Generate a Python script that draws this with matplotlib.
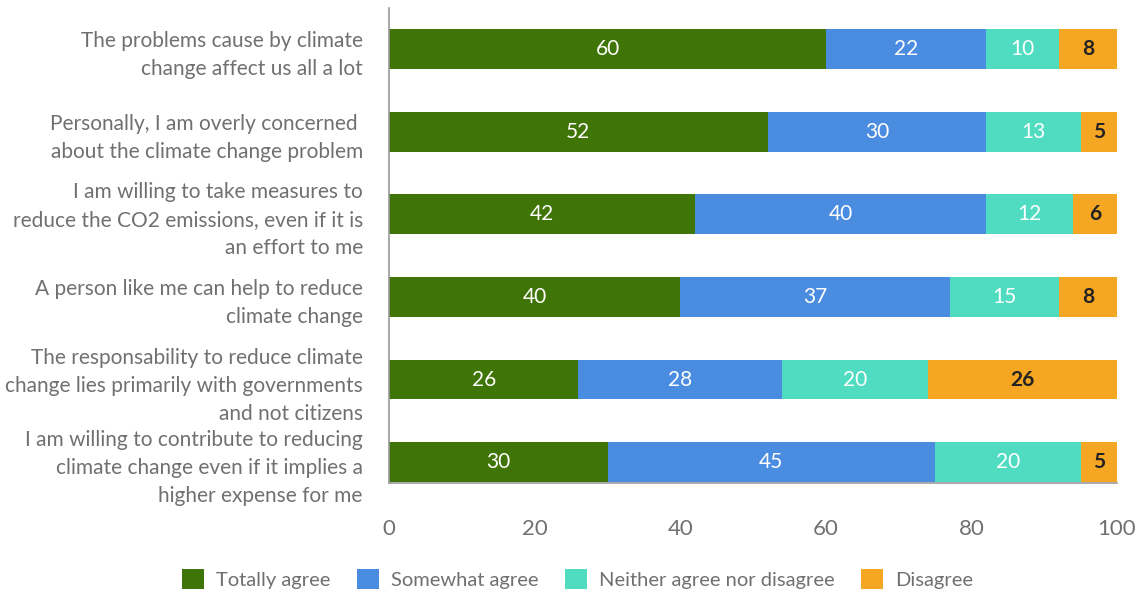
import matplotlib.pyplot as plt
from matplotlib.patches import Patch

plt.rcParams['font.family'] = ['Lato', 'DejaVu Sans']

statements = [
    "The problems cause by climate\nchange affect us all a lot",
    "Personally, I am overly concerned \nabout the climate change problem",
    "I am willing to take measures to\nreduce the CO2 emissions, even if it is\nan effort to me",
    "A person like me can help to reduce\nclimate change",
    "The responsability to reduce climate\nchange lies primarily with governments\nand not citizens",
    "I am willing to contribute to reducing\nclimate change even if it implies a\nhigher expense for me",
]
totally_agree = [60, 52, 42, 40, 26, 30]
somewhat_agree = [22, 30, 40, 37, 28, 45]
neither = [10, 13, 12, 15, 20, 20]
disagree = [8, 5, 6, 8, 26, 5]

series = [
    ("Totally agree", totally_agree, "#3f7406", "white"),
    ("Somewhat agree", somewhat_agree, "#4a8ce0", "white"),
    ("Neither agree nor disagree", neither, "#4fdcc0", "white"),
    ("Disagree", disagree, "#f5a623", "#222222"),
]
xticks = [0, 20, 40, 60, 80, 100]

fig = plt.figure(figsize=(11.48, 5.94), dpi=100)
ax = fig.add_axes([0.339, 0.187, 0.634, 0.8])

ypos = list(range(len(statements)))
left = [0] * len(statements)
for name, vals, color, tcolor in series:
    bars = ax.barh(ypos, vals, left=left, height=0.48, color=color, label=name)
    for b, v in zip(bars, vals):
        weight = 'bold' if tcolor != 'white' else 'normal'
        ax.text(b.get_x() + b.get_width() / 2, b.get_y() + b.get_height() / 2, str(v),
                ha='center', va='center', color=tcolor, fontsize=15, fontweight=weight)
    left = [l + v for l, v in zip(left, vals)]

ax.set_ylim(5.25, -0.5)
ax.set_xlim(0, 100)
ax.set_yticks(ypos)
ax.set_yticklabels(statements, fontsize=15, color="#707070", linespacing=1.5)
ax.set_xticks(xticks)
ax.set_xticklabels([str(t) for t in xticks], fontsize=16, color="#707070")
ax.tick_params(axis='both', length=0)
ax.tick_params(axis='x', pad=26)
ax.tick_params(axis='y', pad=19)
for s in ['top', 'right']:
    ax.spines[s].set_visible(False)
for s in ['left', 'bottom']:
    ax.spines[s].set_color("#999999")
    ax.spines[s].set_linewidth(1.2)

handles = [Patch(facecolor=c, label=n) for n, _, c, _ in series]
fig.legend(handles=handles, loc='center', bbox_to_anchor=(0.503, 0.025), ncol=4, frameon=False,
           fontsize=14.5, labelcolor="#707070", handlelength=1.1, handleheight=1.1,
           columnspacing=1.3, handletextpad=0.6)

plt.savefig("out.png", dpi=100)
